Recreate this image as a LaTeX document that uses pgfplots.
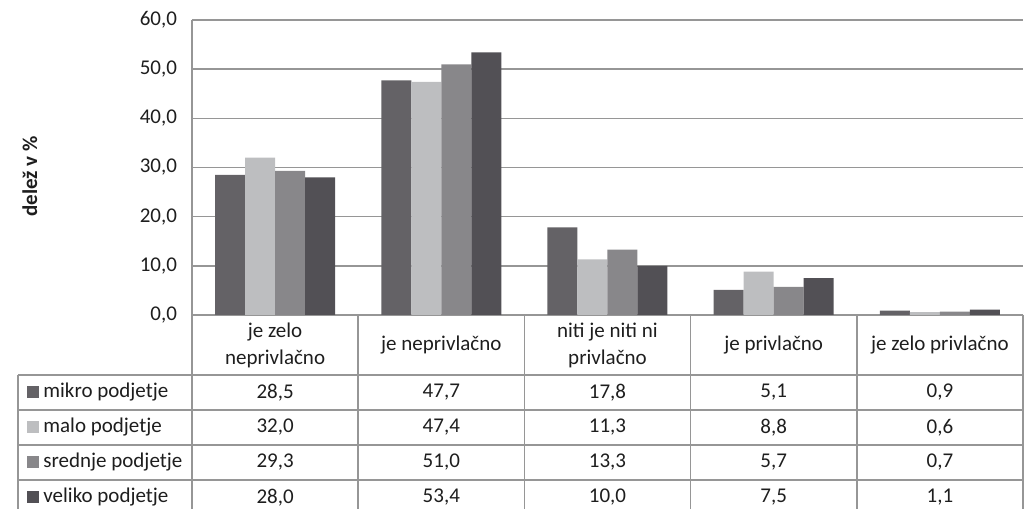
\documentclass[border=0pt]{standalone}
\usepackage{pgfplots}
\usepackage{pgfplotstable}
\usepackage{fontspec}
\setmainfont{Carlito}
\pgfplotsset{compat=1.18}

\definecolor{cmikro}{RGB}{100,98,102}
\definecolor{cmalo}{RGB}{189,190,192}
\definecolor{csrednje}{RGB}{136,135,138}
\definecolor{cveliko}{RGB}{82,80,85}
\definecolor{lin}{RGB}{150,150,150}
\definecolor{txt}{RGB}{30,30,30}

\pgfplotstableread{
cat mikro malo srednje veliko
0 28.5 32.0 29.3 28.0
1 47.7 47.4 51.0 53.4
2 17.8 11.3 13.3 10.0
3 5.1 8.8 5.7 7.5
4 0.9 0.6 0.7 1.1
}\data

\begin{document}
\begin{tikzpicture}[font=\fontsize{10.5}{12.5}\selectfont, text=txt]
\begin{axis}[
    at={(0,0)}, anchor=south west,
    scale only axis,
    width=415.5pt, height=147.5pt,
    xmin=-0.5, xmax=4.5,
    ymin=0, ymax=60,
    ytick={0,10,...,60},
    xtick=\empty,
    axis x line*=bottom,
    axis y line*=left,
    axis line style={lin, line width=0.8pt},
    ymajorgrids,
    grid style={lin, line width=0.8pt},
    major tick length=0pt,
    yticklabel style={font=\fontsize{10.5}{12.5}\selectfont, text=txt, xshift=-4pt},
    /pgf/number format/.cd, fixed, fixed zerofill, precision=1, use comma, assume math mode=true,
    /pgfplots/.cd,
    ybar=0pt, bar width=15pt,
    ylabel={\bfseries delež v \%},
    ylabel style={at={(axis description cs:-0.195,0.47)}, anchor=center, font=\fontsize{10.5}{12.5}\selectfont\bfseries},
]
\addplot[fill=cmikro, draw=none] table[x=cat, y=mikro] {\data};
\addplot[fill=cmalo, draw=none] table[x=cat, y=malo] {\data};
\addplot[fill=csrednje, draw=none] table[x=cat, y=srednje] {\data};
\addplot[fill=cveliko, draw=none] table[x=cat, y=veliko] {\data};
\end{axis}

% data table below the plot
\def\cw{83.1pt}
\begin{scope}[lin, line width=0.8pt]
  \foreach \i in {1,...,5} \draw (\i*\cw,0) -- (\i*\cw,-100pt);
  \draw (0,0) -- (0,-100pt);
  \foreach \yy in {-30pt,-47.5pt,-65pt,-82.5pt} \draw (-87pt,\yy) -- (415.5pt,\yy);
  \draw (-87pt,-30pt) -- (-87pt,-100pt);
\end{scope}
\foreach \lab [count=\i from 0] in {{je zelo\\neprivlačno},{je neprivlačno},{niti je niti ni\\privlačno},{je privlačno},{je zelo privlačno}}
  \node[align=center, font=\fontsize{10.5}{13.5}\selectfont, text=txt] at ({(\i+0.5)*\cw},-15pt) {\lab};
\foreach \s/\c/\nm [count=\k from 0] in {mikro/cmikro/mikro podjetje, malo/cmalo/malo podjetje, srednje/csrednje/srednje podjetje, veliko/cveliko/veliko podjetje} {
  \fill[\c] (-82.5pt,{-30pt-17.5pt*\k-5.5pt}) rectangle ++(6pt,-6pt);
  \node[anchor=west, inner sep=0pt, text=txt] at (-74.5pt,{-30pt-17.5pt*\k-8.75pt}) {\nm};
  \foreach \r in {0,...,4} {
    \pgfplotstablegetelem{\r}{\s}\of\data
    \node[text=txt] at ({(\r+0.5)*\cw},{-30pt-17.5pt*\k-8.75pt}) {\pgfmathprintnumber[fixed,fixed zerofill,precision=1,use comma,assume math mode=true]{\pgfplotsretval}};
  }
}
\pgfresetboundingbox
\path[use as bounding box] (-96pt,-97pt) rectangle (416.5pt,157.5pt);
\end{tikzpicture}
\end{document}
